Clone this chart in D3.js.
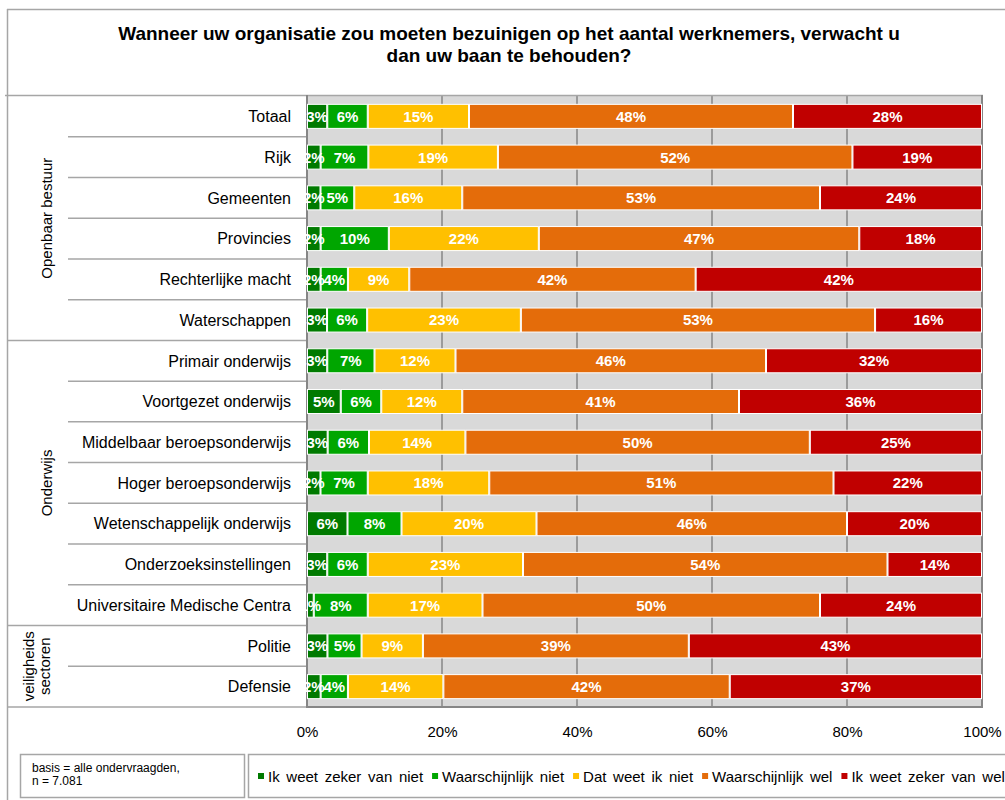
<!DOCTYPE html>
<html>
<head>
<meta charset="utf-8">
<script src="https://cdn.jsdelivr.net/npm/d3@7"></script>
<style>
  html, body { margin: 0; padding: 0; background: #fff; }
  svg { display: block; font-family: "Liberation Sans", Arial, Helvetica, sans-serif; }
</style>
</head>
<body>
<svg id="chart" width="1005" height="800"></svg>
<script>
// Rows of the chart, top to bottom
const categories = [
  "Totaal", "Rijk", "Gemeenten", "Provincies", "Rechterlijke macht", "Waterschappen",
  "Primair onderwijs", "Voortgezet onderwijs", "Middelbaar beroepsonderwijs",
  "Hoger beroepsonderwijs", "Wetenschappelijk onderwijs", "Onderzoeksinstellingen",
  "Universitaire Medische Centra", "Politie", "Defensie"
];

// Sector groups and how many rows each one covers
const groupNames = [["Openbaar bestuur"], ["Onderwijs"], ["veiligheids", "sectoren"]];
const groupSizes = [6, 7, 2];

// Answer categories (legend order)
const seriesNames = [
  "Ik weet zeker van niet", "Waarschijnlijk niet", "Dat weet ik niet",
  "Waarschijnlijk wel", "Ik weet zeker van wel"
];
const seriesColors = ["#007a00", "#00a600", "#ffc000", "#e46c0a", "#c00000"];

// Percentages per answer, one value per row
const ikWeetZekerVanNiet = [3, 2, 2, 2, 2, 3, 3, 5, 3, 2, 6, 3, 1, 3, 2];
const waarschijnlijkNiet = [6, 7, 5, 10, 4, 6, 7, 6, 6, 7, 8, 6, 8, 5, 4];
const datWeetIkNiet      = [15, 19, 16, 22, 9, 23, 12, 12, 14, 18, 20, 23, 17, 9, 14];
const waarschijnlijkWel  = [48, 52, 53, 47, 42, 53, 46, 41, 50, 51, 46, 54, 50, 39, 42];
const ikWeetZekerVanWel  = [28, 19, 24, 18, 42, 16, 32, 36, 25, 22, 20, 14, 24, 43, 37];

const tickValues = [0, 0.2, 0.4, 0.6, 0.8, 1];

const titleLines = [
  "Wanneer uw organisatie zou moeten bezuinigen op het aantal werknemers, verwacht u",
  "dan uw baan te behouden?"
];
const noteLines = ["basis = alle ondervraagden,", "n = 7.081"];

// ---- build table ----
const seriesValues = [ikWeetZekerVanNiet, waarschijnlijkNiet, datWeetIkNiet, waarschijnlijkWel, ikWeetZekerVanWel];
const table = categories.map((c, i) => {
  const row = { category: c };
  seriesNames.forEach((s, k) => { row[s] = seriesValues[k][i]; });
  return row;
});
const stacked = d3.stack().keys(seriesNames).offset(d3.stackOffsetExpand)(table);

// ---- layout ----
const svg = d3.select("#chart");
const plot = { left: 307, right: 982, top: 96, bottom: 707 };
const frameLeft = 7, frameTop = 9, subLeft = 68;

const x = d3.scaleLinear().domain([0, 1]).range([plot.left, plot.right]);
const y = d3.scaleBand().domain(categories).range([plot.top, plot.bottom])
  .paddingInner(0.41).paddingOuter(0.205);
const step = y.step();
const rowEdge = i => plot.top + i * step;

const lineLight = "#a6a6a6";
const lineDark = "#868686";

// outer frame
svg.append("line").attr("x1", frameLeft).attr("x2", 1005).attr("y1", frameTop + 0.5).attr("y2", frameTop + 0.5)
  .attr("stroke", lineLight).attr("stroke-width", 1.5);
svg.append("line").attr("x1", frameLeft + 0.5).attr("x2", frameLeft + 0.5).attr("y1", frameTop).attr("y2", 800)
  .attr("stroke", lineLight).attr("stroke-width", 1.5);

// title
svg.append("g").selectAll("text").data(titleLines).join("text")
  .attr("x", 509).attr("y", (d, i) => 40 + i * 22)
  .attr("text-anchor", "middle").attr("font-size", 19).attr("font-weight", "bold").attr("fill", "#000")
  .text(d => d);

// plot background
svg.append("rect").attr("x", plot.left).attr("y", plot.top)
  .attr("width", plot.right - plot.left).attr("height", plot.bottom - plot.top).attr("fill", "#d9d9d9");

// vertical gridlines
svg.append("g").selectAll("line").data(tickValues.filter(t => t > 0 && t < 1)).join("line")
  .attr("x1", d => x(d)).attr("x2", d => x(d)).attr("y1", plot.top).attr("y2", plot.bottom)
  .attr("stroke", lineDark).attr("stroke-width", 1.5);

// table lines: row separators inside groups
let groupStarts = [];
let acc = 0;
groupSizes.forEach(n => { groupStarts.push(acc); acc += n; });
const innerEdges = [];
groupStarts.forEach((s, g) => { for (let k = 1; k < groupSizes[g]; k++) innerEdges.push(s + k); });
svg.append("g").selectAll("line").data(innerEdges).join("line")
  .attr("x1", subLeft).attr("x2", plot.left).attr("y1", d => rowEdge(d)).attr("y2", d => rowEdge(d))
  .attr("stroke", lineLight).attr("stroke-width", 1.5);

// group separators
svg.append("g").selectAll("line").data(groupStarts.slice(1)).join("line")
  .attr("x1", frameLeft).attr("x2", plot.left).attr("y1", d => rowEdge(d)).attr("y2", d => rowEdge(d))
  .attr("stroke", lineLight).attr("stroke-width", 1.5);

// table top and bottom
svg.append("line").attr("x1", frameLeft - 2).attr("x2", plot.right + 1).attr("y1", plot.top - 0.5).attr("y2", plot.top - 0.5)
  .attr("stroke", lineLight).attr("stroke-width", 1.5);
svg.append("line").attr("x1", frameLeft).attr("x2", plot.left).attr("y1", plot.bottom).attr("y2", plot.bottom)
  .attr("stroke", lineLight).attr("stroke-width", 1.5);
svg.append("line").attr("x1", plot.left).attr("x2", plot.right + 1).attr("y1", plot.bottom).attr("y2", plot.bottom)
  .attr("stroke", lineDark).attr("stroke-width", 2);
// plot left and right edges
svg.append("line").attr("x1", plot.left).attr("x2", plot.left).attr("y1", plot.top - 1).attr("y2", plot.bottom + 1)
  .attr("stroke", lineDark).attr("stroke-width", 2);
svg.append("line").attr("x1", plot.right).attr("x2", plot.right).attr("y1", plot.top - 1).attr("y2", plot.bottom + 1)
  .attr("stroke", lineDark).attr("stroke-width", 2);

// bars
const layers = svg.append("g").selectAll("g").data(stacked).join("g")
  .attr("fill", (d, i) => seriesColors[i]);
layers.selectAll("rect").data(d => d).join("rect")
  .attr("x", d => x(d[0]) + 0.5)
  .attr("y", d => y(d.data.category))
  .attr("width", d => Math.max(0, x(d[1]) - x(d[0]) - 1))
  .attr("height", y.bandwidth())
  .attr("stroke", "#ffffff").attr("stroke-width", 1);

// value labels
const labels = svg.append("g").attr("font-size", 15).attr("font-weight", "bold").attr("fill", "#fff")
  .attr("text-anchor", "middle");
stacked.forEach((layer, k) => {
  labels.append("g").selectAll("text").data(layer).join("text")
    .attr("x", d => (x(d[0]) + x(d[1])) / 2)
    .attr("y", d => y(d.data.category) + y.bandwidth() / 2)
    .attr("dy", "0.36em")
    .text(d => d.data[seriesNames[k]] + "%");
});

// category labels
svg.append("g").selectAll("text").data(categories).join("text")
  .attr("x", 291).attr("y", d => y(d) + y.bandwidth() / 2).attr("dy", "0.36em")
  .attr("text-anchor", "end").attr("font-size", 16).attr("fill", "#000")
  .text(d => d);

// group labels (rotated)
groupNames.forEach((lines, g) => {
  const cy = (rowEdge(groupStarts[g]) + rowEdge(groupStarts[g] + groupSizes[g])) / 2;
  const cx = lines.length > 1 ? 37 : 47;
  const t = svg.append("text")
    .attr("transform", `translate(${cx},${cy}) rotate(-90)`)
    .attr("text-anchor", "middle").attr("font-size", 15).attr("fill", "#000");
  lines.forEach((ln, i) => {
    t.append("tspan").attr("x", 0).attr("y", (i - (lines.length - 1) / 2) * 16).attr("dy", "0.36em").text(ln);
  });
});

// x axis
const axis = d3.axisBottom(x).tickValues(tickValues).tickSize(0).tickPadding(0).tickFormat(d3.format(".0%"));
const axisG = svg.append("g").attr("transform", `translate(0,${plot.bottom + 19})`).call(axis);
axisG.select(".domain").remove();
axisG.selectAll("text").attr("font-size", 15).attr("fill", "#000")
  .attr("font-family", "\"Liberation Sans\", Arial, sans-serif");

// note box
svg.append("rect").attr("x", 20.5).attr("y", 754.5).attr("width", 224).attr("height", 43)
  .attr("fill", "#fff").attr("stroke", lineLight).attr("stroke-width", 1.5);
svg.append("g").selectAll("text").data(noteLines).join("text")
  .attr("x", 32).attr("y", (d, i) => 772 + i * 13).attr("font-size", 12).attr("fill", "#000")
  .text(d => d);

// legend box
svg.append("rect").attr("x", 248.5).attr("y", 754.5).attr("width", 770).attr("height", 43)
  .attr("fill", "#fff").attr("stroke", lineLight).attr("stroke-width", 1.5);
const legend = svg.append("g");
let lx = 258;
seriesNames.forEach((name, i) => {
  legend.append("rect").attr("x", lx).attr("y", 773).attr("width", 6).attr("height", 6).attr("fill", seriesColors[i]);
  const t = legend.append("text").attr("x", lx + 10).attr("y", 777).attr("dy", "0.36em")
    .attr("font-size", 15).attr("word-spacing", 2.5).attr("fill", "#000").text(name);
  lx += 10 + t.node().getComputedTextLength() + 9;
});
</script>
</body>
</html>
